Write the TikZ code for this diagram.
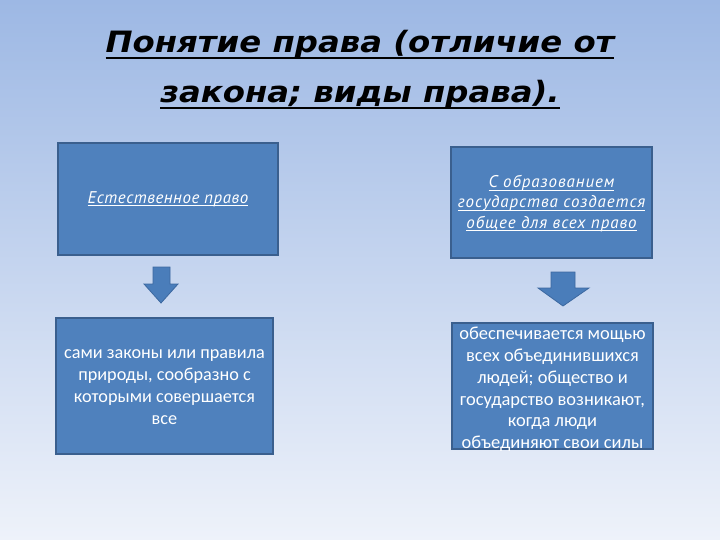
\documentclass[tikz,border=0pt]{standalone}
\usepackage{fontspec}
\setmainfont{Carlito}
\newfontfamily\titlefont[FakeStretch=1.1]{DejaVu Sans}
\newfontfamily\itfontA[LetterSpace=3]{PT Sans}
\newfontfamily\itfontB[LetterSpace=5.5]{PT Sans}
\definecolor{bgtop}{HTML}{9DB8E4}
\definecolor{bgbot}{HTML}{EEF2FA}
\definecolor{boxfill}{HTML}{4F81BD}
\definecolor{boxline}{HTML}{3A5F8E}
\definecolor{arrfill}{HTML}{4A7DBA}
\definecolor{arrline}{HTML}{3C68A0}
\newcommand{\tul}[1]{\leavevmode\setbox0\hbox{#1}\rlap{\vrule width\wd0 height -4bp depth 6.5bp}\box0}
\newcommand{\bul}[1]{\leavevmode\setbox0\hbox{#1}\rlap{\vrule width\wd0 height -2bp depth 2.9bp}\box0}
\tikzset{
  box/.style={draw=boxline, line width=1.6bp, fill=boxfill, inner sep=0bp},
  boxtext/.style={text=white, align=center, inner sep=0bp},
  titletext/.style={font=\titlefont\bfseries\itshape\fontsize{29.5}{34}\selectfont, text=black, inner sep=0bp, anchor=base},
  toptextA/.style={font=\itfontA\itshape\fontsize{17}{20.5}\selectfont},
  toptextB/.style={font=\itfontB\itshape\fontsize{17}{20.5}\selectfont},
  bottext/.style={font=\fontsize{18.3}{22}\selectfont},
  bottextr/.style={font=\fontsize{18.5}{21.8}\selectfont},
  blockarrow/.style={fill=arrfill, draw=arrline, line width=0.8bp, line join=miter}
}
\begin{document}
\begin{tikzpicture}[x=1bp,y=-1bp]
\shade[top color=bgtop, bottom color=bgbot] (0,0) rectangle (720,540);
\useasboundingbox (0,0) rectangle (720,540);

\node[titletext] (title1) at (360,53) {\tul{Понятие права (отличие от}};
\node[titletext] (title2) at (360,103) {\tul{закона; виды права).}};

\node[box, minimum width=220bp, minimum height=112bp] (lt) at (168,199) {};
\node[boxtext, toptextA] (ltt) at (lt.center) {\bul{Естественное право}};

\node[box, minimum width=201bp, minimum height=111bp] (rt) at (551.5,202.5) {};
\node[boxtext, toptextB] (rtt) at ([yshift=-1bp]rt.center)
  {\bul{С образованием}\\\bul{государства создается}\\\bul{общее для всех право}};

\node[box, minimum width=217bp, minimum height=136bp] (lb) at (164.5,386) {};
\node[boxtext, bottext] (lbt) at ([yshift=-1bp]lb.center)
  {сами законы или правила\\природы, сообразно с\\которыми совершается\\все};

\node[box, minimum width=201bp, minimum height=126bp] (rb) at (552.5,386) {};
\node[boxtext, bottextr] (rbt) at ([yshift=-3.5bp]rb.center)
  {обеспечивается мощью\\всех объединившихся\\людей; общество и\\государство возникают,\\когда люди\\объединяют свои силы};

% block arrows
\draw[blockarrow] (153,267) -- (170,267) -- (170,284) -- (178,284) -- (161,303) -- (144,284) -- (153,284) -- cycle;
\draw[blockarrow] (551,272) -- (575,272) -- (575,288) -- (589,288) -- (563,306) -- (538,288) -- (551,288) -- cycle;
\end{tikzpicture}
\end{document}
